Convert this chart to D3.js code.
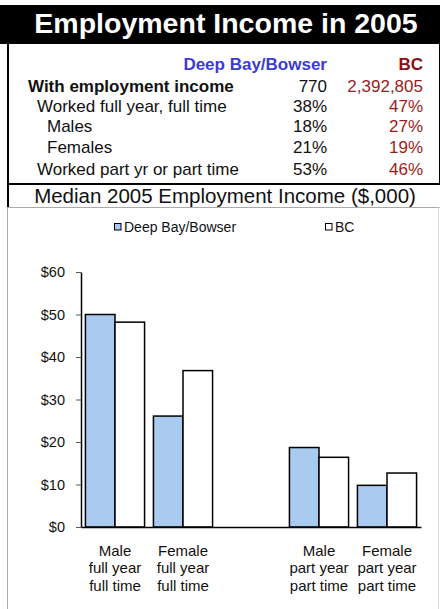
<!DOCTYPE html>
<html>
<head>
<meta charset="utf-8">
<script src="https://cdn.jsdelivr.net/npm/d3@7"></script>
<style>
  body { margin: 0; background: #fff; }
  svg { display: block; font-family: Arial, "Liberation Sans", sans-serif; }
</style>
</head>
<body>
<svg id="chart" width="440" height="609"></svg>
<script>
// table data
const rowLabels = ["With employment income", "Worked full year, full time", "Males", "Females", "Worked part yr or part time"];
const rowIndent = [0, 1, 2, 2, 1];
const deepBayRow = ["770", "38%", "18%", "21%", "53%"];
const bcRow = ["2,392,805", "47%", "27%", "19%", "46%"];

// chart data (median income, $000)
const categories = [
  ["Male", "full year", "full time"],
  ["Female", "full year", "full time"],
  [],
  ["Male", "part year", "part time"],
  ["Female", "part year", "part time"]
];
const seriesNames = ["Deep Bay/Bowser", "BC"];
const deepBay = [50, 26.1, null, 18.7, 9.8];
const bc = [48.2, 36.8, null, 16.4, 12.7];
const yTicks = [0, 10, 20, 30, 40, 50, 60];

const blue = "#a9cbf0";
const red = "#9c1c1c";

const svg = d3.select("#chart");

// title band
svg.append("rect").attr("x", 0).attr("y", 5).attr("width", 440).attr("height", 39).attr("fill", "#000");
svg.append("text").attr("x", 226).attr("y", 33).attr("text-anchor", "middle")
  .attr("fill", "#fff").attr("font-weight", "bold").attr("font-size", 28.5)
  .text("Employment Income in 2005");

// table borders
svg.append("line").attr("x1", 8).attr("x2", 8).attr("y1", 44).attr("y2", 207).attr("stroke", "#000").attr("stroke-width", 2);
svg.append("line").attr("x1", 439.5).attr("x2", 439.5).attr("y1", 44).attr("y2", 184).attr("stroke", "#000").attr("stroke-width", 1);
svg.append("line").attr("x1", 7).attr("x2", 440).attr("y1", 184).attr("y2", 184).attr("stroke", "#000").attr("stroke-width", 2);

// table header
svg.append("text").attr("x", 327).attr("y", 70).attr("text-anchor", "end")
  .attr("fill", "#3b3bd6").attr("font-weight", "bold").attr("font-size", 17).text("Deep Bay/Bowser");
svg.append("text").attr("x", 423).attr("y", 70).attr("text-anchor", "end")
  .attr("fill", "#8b1010").attr("font-weight", "bold").attr("font-size", 17).text("BC");

const rowY = [92, 112, 132, 153, 175];
const indentX = [28, 37, 47];
const rows = svg.append("g").attr("font-size", 17);
rowLabels.forEach((lab, i) => {
  rows.append("text").attr("x", indentX[rowIndent[i]]).attr("y", rowY[i])
    .attr("font-weight", i === 0 ? "bold" : "normal").attr("fill", "#111").text(lab);
  rows.append("text").attr("x", 327).attr("y", rowY[i]).attr("text-anchor", "end").attr("fill", "#111").text(deepBayRow[i]);
  rows.append("text").attr("x", 423).attr("y", rowY[i]).attr("text-anchor", "end").attr("fill", red).text(bcRow[i]);
});

// chart subtitle
svg.append("text").attr("x", 225).attr("y", 203).attr("text-anchor", "middle")
  .attr("font-size", 20.5).attr("fill", "#111").text("Median 2005 Employment Income ($,000)");

// chart frame
svg.append("line").attr("x1", 7).attr("x2", 440).attr("y1", 207.5).attr("y2", 207.5).attr("stroke", "#aaa");
svg.append("line").attr("x1", 7.5).attr("x2", 7.5).attr("y1", 207).attr("y2", 609).attr("stroke", "#aaa");
svg.append("line").attr("x1", 438.5).attr("x2", 438.5).attr("y1", 207).attr("y2", 609).attr("stroke", "#ddd");

// legend
const legendX = [114, 325];
seriesNames.forEach((name, i) => {
  svg.append("rect").attr("x", legendX[i] + 0.5).attr("y", 223.5).attr("width", 6.5).attr("height", 6.5)
    .attr("fill", i === 0 ? blue : "#fff").attr("stroke", "#000").attr("stroke-width", 1);
  svg.append("text").attr("x", legendX[i] + 10).attr("y", 232).attr("font-size", 14).attr("fill", "#111").text(name);
});

// scales
const x = d3.scaleBand().domain(d3.range(categories.length)).range([81, 421]).padding(0);
const xSub = d3.scaleBand().domain([0, 1]).range([0, x.bandwidth()]).paddingInner(0).paddingOuter(0.15);
const y = d3.scaleLinear().domain([0, 60]).range([527, 272]);

// bars
const bars = [];
categories.forEach((c, i) => {
  if (deepBay[i] != null) bars.push({ cat: i, s: 0, v: deepBay[i] });
  if (bc[i] != null) bars.push({ cat: i, s: 1, v: bc[i] });
});
svg.append("g").selectAll("rect").data(bars).join("rect")
  .attr("x", d => x(d.cat) + xSub(d.s))
  .attr("y", d => y(d.v))
  .attr("width", xSub.bandwidth())
  .attr("height", d => y(0) - y(d.v))
  .attr("fill", d => d.s === 0 ? blue : "#fff")
  .attr("stroke", "#000").attr("stroke-width", 1.5);

// y axis
const yAxis = svg.append("g").attr("transform", "translate(81,0)")
  .call(d3.axisLeft(y).tickValues(yTicks).tickFormat(d => "$" + d).tickSize(5).tickSizeOuter(0).tickPadding(11));
yAxis.attr("font-family", null).attr("font-size", null);
yAxis.selectAll("text").attr("font-size", 14.5).attr("fill", "#111");
yAxis.selectAll("line").attr("stroke", "#555");
yAxis.select(".domain").attr("stroke", "#000").attr("stroke-width", 1.5);

// x axis
const xAxis = svg.append("g").attr("transform", "translate(0,527)")
  .call(d3.axisBottom(x).tickSize(0).tickSizeOuter(0).tickFormat(""));
xAxis.attr("font-family", null).attr("font-size", null);
xAxis.select(".domain").attr("stroke", "#000").attr("stroke-width", 1.5);
xAxis.selectAll(".tick").each(function (d) {
  const t = d3.select(this).select("text").text(null)
    .attr("y", 0).attr("dy", null).attr("font-size", 15).attr("fill", "#111");
  categories[d].forEach((line, k) => {
    t.append("tspan").attr("x", 0).attr("y", 29 + k * 17.3).text(line);
  });
});
</script>
</body>
</html>
